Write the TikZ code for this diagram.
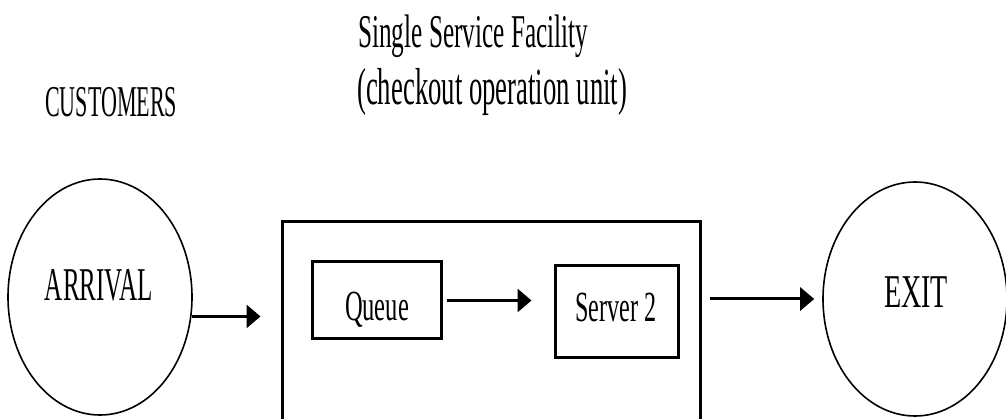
\documentclass[tikz,border=0pt]{standalone}
\usepackage{fontspec}
\setmainfont{Liberation Serif}
\usepackage{graphicx}
\usetikzlibrary{shapes.geometric,arrows.meta}
\newcommand{\wtext}[3]{\resizebox{#1pt}{\height}{\fontsize{#2pt}{#2pt}\selectfont #3}}
\begin{document}
\begin{tikzpicture}[x=1pt,y=-1pt,
  oval/.style={ellipse,draw,line width=1.6pt,inner sep=0pt},
  bigbox/.style={rectangle,draw,line width=3pt,inner sep=0pt},
  smallbox/.style={rectangle,draw,line width=3pt,inner sep=0pt},
  txt/.style={inner sep=0pt,anchor=base},
  txtw/.style={inner sep=0pt,anchor=base west},
  flow/.style={line width=3pt,-{Triangle[length=14pt,width=23pt]}}]
\useasboundingbox (0,0) rectangle (1006,419);
% titles
\node[txtw] (cust) at (45,117) {\wtext{132}{44}{CUSTOMERS}};
\node[txtw] (title1) at (358,48) {\wtext{230}{47}{Single Service Facility}};
\node[txtw] (title2) at (357,105) {\wtext{270}{52}{(checkout operation unit)}};
% shapes
\node[oval,minimum width=184pt,minimum height=236pt] (arrival) at (100,297) {};
\node[oval,minimum width=184pt,minimum height=234pt] (exit) at (915,299) {};
\node[bigbox,minimum width=418pt,minimum height=240pt] (facility) at (491,342) {};
\node[smallbox,minimum width=129pt,minimum height=77pt] (queue) at (376.5,300.5) {};
\node[smallbox,minimum width=123pt,minimum height=91pt] (server) at (616.5,311.5) {};
% texts
\node[txt] (arrivaltxt) at (99,301) {\wtext{108}{47}{ARRIVAL}};
\node[txt] (exittxt) at (916,308) {\wtext{64}{47}{EXIT}};
\node[txt] (queuetxt) at (377,320) {\wtext{64}{43}{Queue}};
\node[txt] (servertxt) at (616,322) {\wtext{81}{43}{Server 2}};
% arrows
\draw[flow,shorten >=20pt] (arrival.-12.5) -- (facility.west |- arrival.-12.5);
\draw[flow,shorten <=4pt,shorten >=22pt] (queue.east) -- (queue.east -| server.west);
\draw[flow,shorten <=8pt,shorten >=8pt] (facility.east |- exit.west) -- (exit.west);
\end{tikzpicture}
\end{document}
